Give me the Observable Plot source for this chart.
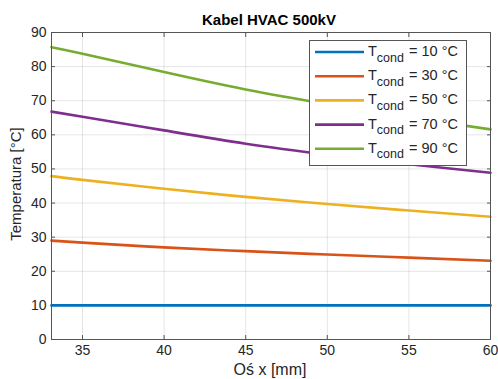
<!DOCTYPE html>
<html><head><meta charset="utf-8">
<script src="https://cdn.jsdelivr.net/npm/d3@7"></script>
<script src="https://cdn.jsdelivr.net/npm/@observablehq/plot@0.6"></script>
<style>body{margin:0;background:#fff;} svg{display:block;}</style>
</head><body><div id="chart"></div>
<script>
const xPos = [33.1, 35, 40, 45, 50, 55, 60];
const tCond = [10, 30, 50, 70, 90];
const s10 = [10, 10, 10, 10, 10, 10, 10];
const s30 = [29.0, 28.4, 27.0, 25.9, 24.9, 24.0, 23.1];
const s50 = [47.9, 46.8, 44.2, 41.8, 39.7, 37.8, 36.0];
const s70 = [66.8, 65.3, 61.3, 57.4, 54.2, 51.4, 48.9];
const s90 = [85.7, 83.8, 78.4, 73.3, 69.0, 65.1, 61.6];
const xTicks = [35, 40, 45, 50, 55, 60];
const yTicks = [0, 10, 20, 30, 40, 50, 60, 70, 80, 90];
const colors = ["#0072BD", "#D95319", "#EDB120", "#7E2F8E", "#77AC30"];
const title = "Kabel HVAC 500kV";

const seriesVals = [s10, s30, s50, s70, s90];
const rows = [];
seriesVals.forEach((vals, i) => vals.forEach((v, j) => rows.push({x: xPos[j], y: v, s: tCond[i]})));

const font = "'Liberation Sans', Arial, Helvetica, sans-serif";
const plot = Plot.plot({
  width: 498, height: 379,
  marginLeft: 51, marginRight: 8, marginTop: 32, marginBottom: 40,
  style: {fontFamily: font, fontSize: "14px", color: "#262626", background: "#fff"},
  x: {domain: [33.1, 60]},
  y: {domain: [0, 90]},
  color: {domain: tCond, range: colors},
  marks: [
    Plot.gridX(xTicks, {stroke: "#000", strokeOpacity: 0.1}),
    Plot.gridY(yTicks, {stroke: "#000", strokeOpacity: 0.1}),
    Plot.line(rows, {x: "x", y: "y", z: "s", stroke: "s", strokeWidth: 2.6, curve: "natural"}),
    Plot.frame({stroke: "#555", strokeWidth: 1}),
    Plot.axisX(xTicks, {anchor: "bottom", tickSize: -4, tickPadding: 10, stroke: "#555", fill: "#262626", fontSize: 14,
      label: null}),
    Plot.axisX(xTicks, {anchor: "top", tickSize: -4, tickFormat: () => "", stroke: "#555", label: null}),
    Plot.axisY(yTicks, {anchor: "left", tickSize: -4, tickPadding: 9, stroke: "#555", fill: "#262626", fontSize: 14,
      label: null}),
    Plot.axisY(yTicks, {anchor: "right", tickSize: -4, tickFormat: () => "", stroke: "#555", label: null})
  ]
});
document.getElementById("chart").appendChild(plot);

const svg = d3.select(plot);
svg.append("text").attr("x", 269).attr("y", 25).attr("text-anchor", "middle")
  .attr("font-family", font).attr("font-size", 15).attr("font-weight", "bold").attr("fill", "#000").text(title);
svg.append("text").attr("x", 270).attr("y", 375).attr("text-anchor", "middle")
  .attr("font-family", font).attr("font-size", 16).attr("fill", "#262626").text("Oś x [mm]");
svg.append("text").attr("transform", "translate(21,184) rotate(-90)").attr("text-anchor", "middle")
  .attr("font-family", font).attr("font-size", 15).attr("fill", "#262626").text("Temperatura [°C]");

const lg = svg.append("g").attr("text-anchor", "start");
lg.append("rect").attr("x", 309.5).attr("y", 40.5).attr("width", 157).attr("height", 125)
  .attr("fill", "#fff").attr("stroke", "#555").attr("stroke-width", 1);
tCond.forEach((t, i) => {
  const cy = 52 + i * 24.2;
  lg.append("line").attr("x1", 315).attr("x2", 364).attr("y1", cy).attr("y2", cy)
    .attr("stroke", colors[i]).attr("stroke-width", 2.6);
  const tx = lg.append("text").attr("x", 368).attr("y", cy + 4).attr("font-family", font)
    .attr("font-size", 14.5).attr("fill", "#262626");
  tx.append("tspan").text("T");
  tx.append("tspan").attr("dy", 5.5).attr("font-size", 12.5).text("cond");
  tx.append("tspan").attr("x", 409).attr("dy", -5.5).text("= " + t + " °C");
});
</script></body></html>
